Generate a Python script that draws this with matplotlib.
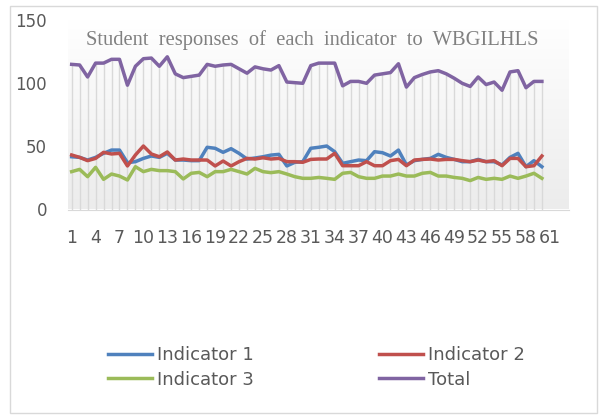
import numpy as np
import matplotlib
matplotlib.use("Agg")
from matplotlib import pyplot as plt
from matplotlib.colors import LinearSegmentedColormap
from matplotlib.patches import Rectangle

# data (60 students)
indicator1 = [41.8, 41.3, 39.2, 41.3, 44.5, 47.1, 47.1, 37.1, 37.9, 40.5,
              42.4, 41.3, 44.5, 39.2, 39.2, 38.7, 38.7, 49.3, 48.5, 45.3,
              48.2, 44.5, 40.0, 40.8, 41.8, 43.1, 43.7, 34.5, 37.4, 37.9,
              48.5, 49.3, 50.3, 45.8, 36.6, 37.9, 39.2, 38.7, 45.8, 45.0,
              42.4, 47.1, 35.3, 38.7, 39.7, 40.5, 43.7, 41.3, 39.7, 37.9,
              37.9, 39.7, 37.9, 37.9, 35.3, 41.3, 44.5, 33.9, 38.7, 33.9]
indicator2 = [43.2, 41.3, 38.7, 40.5, 45.3, 44.0, 44.5, 34.5, 43.2, 50.3,
              44.0, 41.8, 45.6, 39.2, 40.0, 39.2, 39.2, 39.2, 34.5, 38.4,
              34.5, 37.9, 40.5, 40.0, 41.0, 40.0, 40.5, 37.9, 37.9, 37.4,
              39.7, 40.0, 40.0, 44.5, 34.7, 34.7, 34.7, 37.9, 34.7, 34.7,
              38.7, 39.7, 34.7, 39.2, 39.7, 40.0, 39.2, 39.7, 39.7, 38.7,
              37.9, 39.2, 37.9, 38.7, 34.7, 40.5, 40.5, 33.9, 34.7, 42.4]
indicator3 = [30.0, 31.8, 26.0, 33.4, 23.9, 28.1, 26.5, 23.4, 33.9, 30.0,
              31.8, 30.8, 30.8, 30.0, 24.2, 28.7, 29.4, 26.0, 30.0, 30.0,
              31.8, 30.0, 28.1, 32.6, 30.0, 29.2, 30.0, 28.1, 26.0, 24.7,
              24.7, 25.4, 24.7, 23.9, 28.7, 29.4, 26.0, 24.7, 24.7, 26.5,
              26.5, 28.1, 26.5, 26.5, 28.7, 29.4, 26.5, 26.5, 25.4, 24.7,
              22.9, 25.4, 23.9, 24.7, 23.9, 26.5, 24.7, 26.5, 28.7, 24.7]
total = [115, 114.5, 105, 116, 116, 119, 119, 98.5, 113.5, 119.5,
         120, 113.5, 121, 107.5, 104.5, 105.5, 106.5, 115, 113.5, 114.5,
         115, 111.5, 108, 113, 111.5, 110.5, 114, 101, 100.5, 100,
         114, 116, 116, 116, 98, 101.5, 101.5, 100, 106.5, 107.5,
         108.5, 115.5, 97, 104.5, 107, 109, 110, 107.5, 104, 100,
         97.5, 105, 99, 101, 94.5, 109, 110, 96.5, 101.5, 101.5]
series_names = ["Indicator 1", "Indicator 2", "Indicator 3", "Total"]
x_ticks = list(range(1, 62, 3))
y_ticks = [0, 50, 100, 150]

colors = ["#4F81BD", "#C0504D", "#9BBB59", "#8064A2"]
txt = "#595959"

fig = plt.figure(figsize=(6.03, 4.17), dpi=100)
fig.patches.append(Rectangle((10 / 603, 1 - 413 / 417), 587 / 603, 407 / 417,
                             transform=fig.transFigure, fill=False,
                             ec="#d9d9d9", lw=1))

ax = fig.add_axes([68 / 603, 1 - 209.5 / 417, 501 / 603, 189.3 / 417])
x = np.arange(1, len(total) + 1)
xlim = (0.54, 63.4)

# plot area gradient
grad = LinearSegmentedColormap.from_list("g", ["#ececec", "#ffffff"])
ax.imshow(np.linspace(0, 1, 256).reshape(-1, 1), cmap=grad, origin="lower",
          extent=[xlim[0], xlim[1], 0, 150], aspect="auto", zorder=0)

# drop lines
tops = np.max([indicator1, indicator2, indicator3, total], axis=0)
ax.vlines(x, 0, tops, color="#d9d9d9", lw=1, zorder=1)

lines = []
for data, c, name in zip([indicator1, indicator2, indicator3, total], colors, series_names):
    ln, = ax.plot(x, data, color=c, lw=2.5, label=name, zorder=3)
    lines.append(ln)

ax.set_xlim(*xlim)
ax.set_ylim(0, 150)
ax.set_xticks(x_ticks)
ax.set_xticklabels([str(t) for t in x_ticks])
ax.set_yticks(y_ticks)
ax.tick_params(axis="both", length=0, labelsize=12, colors=txt)
ax.tick_params(axis="x", labelsize=12.5, pad=14)
ax.tick_params(axis="y", pad=15)
for s in ["left", "right", "top"]:
    ax.spines[s].set_visible(False)
ax.spines["bottom"].set_color("#d9d9d9")

fig.text(312.5 / 603, 1 - 40 / 417,
         "Student  responses  of  each  indicator  to  WBGILHLS",
         family="Liberation Serif", fontsize=14.8, color="#808080",
         ha="center", va="center")

order = [0, 2, 1, 3]
fig.legend([lines[i] for i in order], [series_names[i] for i in order],
           ncol=2, loc="center", bbox_to_anchor=(316.5 / 603, 1 - 367.5 / 417),
           frameon=False, fontsize=13, labelcolor=txt, handlelength=2.45,
           handletextpad=0.3, columnspacing=6.9, labelspacing=0.35,
           borderpad=0)

fig.savefig("out.png", dpi=100)
